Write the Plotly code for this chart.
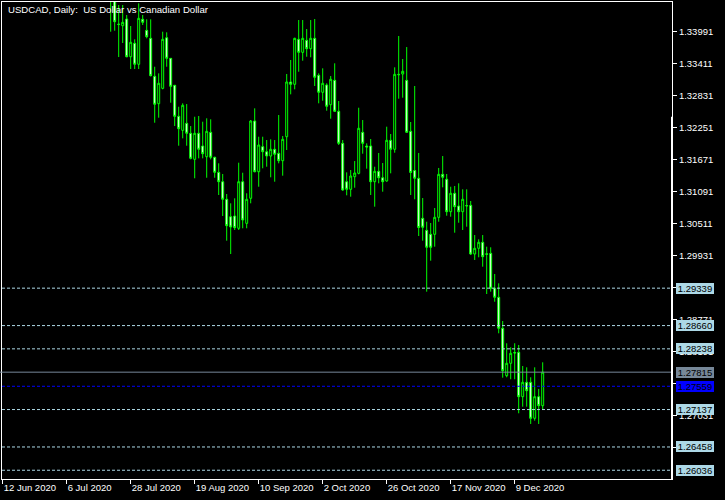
import plotly.graph_objects as go
import pandas as pd

# ---- data -------------------------------------------------------------
dates = pd.bdate_range("2020-06-12", periods=136).strftime("%Y-%m-%d").tolist()

opens = [
    1.3577, 1.3588, 1.3572, 1.3530, 1.3580, 1.3612, 1.3602, 1.3548, 1.3628, 1.3685,
    1.3665, 1.3640, 1.3580, 1.3605, 1.3575, 1.3560, 1.3580, 1.3565, 1.3560, 1.3520,
    1.3595, 1.3575, 1.3610, 1.3590, 1.3560, 1.3575, 1.3545, 1.3500, 1.3470, 1.34130,
    1.34100, 1.34221, 1.33537, 1.33781, 1.33400, 1.34216, 1.34016, 1.33871, 1.33182, 1.32685,
    1.32964, 1.33882, 1.33508, 1.33019, 1.32456, 1.32202, 1.32329, 1.32148, 1.31676, 1.32148,
    1.31918, 1.31723, 1.32166, 1.31713, 1.31440, 1.31270, 1.30951, 1.30635, 1.30648, 1.30425,
    1.31270, 1.30515, 1.30969, 1.32371, 1.31451, 1.31905, 1.31814, 1.31736, 1.31858, 1.31785,
    1.31651, 1.32086, 1.33079, 1.33037, 1.33853, 1.33617, 1.33835, 1.33683, 1.33871, 1.33200,
    1.32892, 1.33024, 1.32667, 1.33109, 1.32547, 1.31966, 1.31270, 1.31132, 1.31361, 1.31422,
    1.32166, 1.31918, 1.31918, 1.31270, 1.31459, 1.31342, 1.31283, 1.32021, 1.31858, 1.33218,
    1.33224, 1.33109, 1.32184, 1.31473, 1.31332, 1.30606, 1.30388, 1.30316, 1.30316, 1.30624,
    1.31404, 1.31314, 1.30726, 1.31060, 1.30829, 1.30726, 1.30838, 1.30842, 1.29958, 1.30062,
    1.30171, 1.29962, 1.29971, 1.29336, 1.29173, 1.28611, 1.27751, 1.27976, 1.28172, 1.28175,
    1.27370, 1.27631, 1.27631, 1.26978, 1.27370, 1.27207,
]
highs = [
    1.3650, 1.3660, 1.3590, 1.3595, 1.3627, 1.3646, 1.3620, 1.3640, 1.3715, 1.3716,
    1.3690, 1.3660, 1.3620, 1.3615, 1.3590, 1.3600, 1.3590, 1.3600, 1.3575, 1.3605,
    1.3620, 1.3620, 1.3645, 1.3605, 1.3595, 1.3590, 1.3565, 1.3512, 1.3485, 1.34475,
    1.34475, 1.34294, 1.34094, 1.33853, 1.34506, 1.34294, 1.34216, 1.34216, 1.33356, 1.33236,
    1.33991, 1.33980, 1.33510, 1.33025, 1.32630, 1.32692, 1.32679, 1.32280, 1.32449, 1.32462,
    1.32358, 1.32420, 1.32402, 1.31723, 1.31604, 1.31410, 1.31047, 1.30878, 1.30969, 1.31615,
    1.31433, 1.31060, 1.32389, 1.32601, 1.32086, 1.32086, 1.32026, 1.32039, 1.32026, 1.32480,
    1.32099, 1.33224, 1.33478, 1.33882, 1.34203, 1.34203, 1.34040, 1.34203, 1.34221, 1.33236,
    1.33327, 1.33055, 1.33187, 1.33418, 1.32734, 1.32026, 1.31440, 1.31482, 1.31645, 1.32612,
    1.32389, 1.31966, 1.32045, 1.31542, 1.31791, 1.31609, 1.32268, 1.32135, 1.33345, 1.33913,
    1.33496, 1.33713, 1.32353, 1.33006, 1.31791, 1.30974, 1.30544, 1.30521, 1.30793, 1.31519,
    1.31736, 1.31410, 1.31179, 1.31192, 1.31241, 1.31132, 1.31132, 1.30920, 1.30303, 1.30225,
    1.30303, 1.30091, 1.30080, 1.29596, 1.29427, 1.28743, 1.28339, 1.28266, 1.28339, 1.28308,
    1.27927, 1.27903, 1.27722, 1.27903, 1.27510, 1.27994,
]
lows = [
    1.3540, 1.3560, 1.3505, 1.3522, 1.3560, 1.3578, 1.3530, 1.3535, 1.3620, 1.3640,
    1.3615, 1.3570, 1.3535, 1.3550, 1.3525, 1.3550, 1.3535, 1.3550, 1.3505, 1.3515,
    1.3560, 1.3565, 1.3575, 1.3545, 1.3540, 1.3525, 1.3490, 1.33991, 1.34009, 1.33532,
    1.33786, 1.33527, 1.33314, 1.33314, 1.33314, 1.34113, 1.33871, 1.33180, 1.32340, 1.32431,
    1.32946, 1.33356, 1.32703, 1.32280, 1.31923, 1.32057, 1.31923, 1.31676, 1.31332, 1.31694,
    1.31694, 1.31342, 1.31676, 1.31342, 1.31029, 1.30648, 1.30200, 1.29958, 1.30394, 1.30394,
    1.30425, 1.30425, 1.30878, 1.31440, 1.31179, 1.31513, 1.31542, 1.31350, 1.31270, 1.31604,
    1.31379, 1.31845, 1.32855, 1.32946, 1.33265, 1.33465, 1.33537, 1.33527, 1.33006, 1.32692,
    1.32739, 1.32558, 1.32413, 1.32534, 1.31936, 1.31107, 1.31023, 1.30998, 1.31161, 1.31404,
    1.31778, 1.31506, 1.31029, 1.30817, 1.31241, 1.31089, 1.31270, 1.31422, 1.31796, 1.32776,
    1.32794, 1.32159, 1.31029, 1.30951, 1.30285, 1.30200, 1.29275, 1.29837, 1.30091, 1.30544,
    1.31168, 1.30653, 1.30635, 1.30345, 1.30526, 1.30394, 1.30454, 1.29940, 1.29850, 1.29899,
    1.29728, 1.29233, 1.29275, 1.29093, 1.28520, 1.27715, 1.27722, 1.27686, 1.27686, 1.27069,
    1.27189, 1.27189, 1.26875, 1.26935, 1.26875, 1.27141,
]
closes = [
    1.3588, 1.3572, 1.3530, 1.3580, 1.3612, 1.3602, 1.3548, 1.3628, 1.3685, 1.3665,
    1.3640, 1.3580, 1.3605, 1.3575, 1.3560, 1.3580, 1.3565, 1.3560, 1.3520, 1.3595,
    1.3575, 1.3610, 1.3590, 1.3560, 1.3575, 1.3545, 1.3500, 1.3470, 1.34172, 1.34122,
    1.34161, 1.33537, 1.33799, 1.33400, 1.34234, 1.34161, 1.33900, 1.33193, 1.32674, 1.33055,
    1.33853, 1.33508, 1.33000, 1.32456, 1.32231, 1.32656, 1.32148, 1.31694, 1.32148, 1.31858,
    1.31778, 1.32184, 1.31713, 1.31440, 1.31270, 1.30951, 1.30472, 1.30448, 1.30436, 1.31270,
    1.30575, 1.30951, 1.32371, 1.31451, 1.31936, 1.31814, 1.31736, 1.31858, 1.31767, 1.31651,
    1.32039, 1.33079, 1.33037, 1.33871, 1.33617, 1.33871, 1.33683, 1.33871, 1.33164, 1.32892,
    1.33055, 1.32638, 1.33128, 1.32547, 1.31966, 1.31119, 1.31132, 1.31373, 1.31428, 1.32239,
    1.31966, 1.31899, 1.31270, 1.31459, 1.31342, 1.31270, 1.32021, 1.31858, 1.33218, 1.33211,
    1.33273, 1.32166, 1.31437, 1.31332, 1.30439, 1.30443, 1.30080, 1.30080, 1.30624, 1.31404,
    1.31350, 1.30726, 1.31060, 1.30817, 1.30726, 1.30951, 1.30831, 1.29958, 1.30062, 1.30171,
    1.29910, 1.29953, 1.29336, 1.29173, 1.28611, 1.27842, 1.27976, 1.28157, 1.28163, 1.27370,
    1.27631, 1.27479, 1.26978, 1.27370, 1.27207, 1.27815,
]

x_tick_index = [0, 16, 32, 48, 64, 80, 96, 112, 128]
x_tick_labels = ["12 Jun 2020", "6 Jul 2020", "28 Jul 2020", "19 Aug 2020", "10 Sep 2020",
                 "2 Oct 2020", "26 Oct 2020", "17 Nov 2020", "9 Dec 2020"]
y_tick_values = [1.33991, 1.33411, 1.32831, 1.32251, 1.31671, 1.31091, 1.30511, 1.29931,
                 1.29351, 1.28771, 1.28191, 1.27611, 1.27031, 1.26451]
level_prices = [1.29339, 1.28660, 1.28238, 1.27137, 1.26458, 1.26036]
last_price = 1.27815
blue_price = 1.27559
title_text = "USDCAD, Daily:  US Dollar vs Canadian Dollar"

# ---- figure -----------------------------------------------------------
FONT = "Liberation Sans, Arial, sans-serif"
GREEN = "#00ff00"
LIGHTBLUE = "#add8e6"

fig = go.Figure()
fig.add_trace(go.Candlestick(
    x=dates, open=opens, high=highs, low=lows, close=closes,
    increasing=dict(line=dict(color=GREEN, width=1), fillcolor="#000000"),
    decreasing=dict(line=dict(color=GREEN, width=1), fillcolor="#ffffff"),
    whiskerwidth=0, hoverinfo="skip", showlegend=False,
))

shapes = []
for p in level_prices:
    shapes.append(dict(type="line", xref="paper", x0=0, x1=1, yref="y", y0=p, y1=p,
                       line=dict(color=LIGHTBLUE, width=1, dash="3px,2px"), layer="above"))
shapes.append(dict(type="line", xref="paper", x0=-0.003, x1=1, yref="y", y0=last_price, y1=last_price,
                   line=dict(color="#778899", width=1), layer="above"))
shapes.append(dict(type="line", xref="paper", x0=0, x1=1, yref="y", y0=blue_price, y1=blue_price,
                   line=dict(color="#0000ff", width=1, dash="3px,2px"), layer="above"))
shapes.append(dict(type="line", xref="paper", x0=1, x1=1, yref="y", y0=1.32449, y1=1.25877,
                   line=dict(color="#ffffff", width=2), layer="above"))

annotations = []
labels = [(p, LIGHTBLUE) for p in level_prices] + [(last_price, "#778899"), (blue_price, "#0000ff")]
for p, bg in labels:
    annotations.append(dict(
        x=1, xref="paper", xanchor="left", xshift=3.5,
        y=p, yref="y", yanchor="middle",
        text=f"{p:.5f}", showarrow=False, bgcolor=bg,
        font=dict(family=FONT, size=9.5, color="#000000"),
        width=38, height=11, borderpad=0, borderwidth=0,
    ))
annotations.append(dict(
    x=0, xref="paper", xanchor="left", xshift=4,
    y=1 - 8 / 477, yref="paper", yanchor="middle",
    text=title_text, showarrow=False,
    font=dict(family=FONT, size=9.6, color="#ffffff"),
))

fig.update_layout(
    width=725, height=500,
    margin=dict(l=2, r=53, t=2, b=21),
    paper_bgcolor="#000000", plot_bgcolor="#000000",
    shapes=shapes, annotations=annotations,
    showlegend=False,
    font=dict(family=FONT, size=9.5, color="#ffffff"),
    xaxis=dict(
        type="category", range=[-0.175, 167.325],
        rangeslider=dict(visible=False),
        tickmode="array",
        tickvals=[dates[i] for i in x_tick_index], ticktext=x_tick_labels,
        ticks="outside", ticklen=4, tickwidth=1, tickcolor="#ffffff",
        ticklabelposition="outside right", tickangle=0,
        tickfont=dict(family=FONT, size=9.5, color="#ffffff"),
        showgrid=False, zeroline=False,
        showline=True, linecolor="#ffffff", linewidth=1, mirror=True,
        fixedrange=True,
    ),
    yaxis=dict(
        side="right", range=[1.25877, 1.34530],
        tickmode="array", tickvals=y_tick_values,
        ticktext=[f"{v:.5f}" for v in y_tick_values],
        ticks="outside", ticklen=4, tickwidth=1, tickcolor="#ffffff",
        tickfont=dict(family=FONT, size=9.5, color="#ffffff"),
        showgrid=False, zeroline=False,
        showline=True, linecolor="#ffffff", linewidth=1, mirror=True,
        fixedrange=True,
    ),
)

fig.write_html(
    "out.html",
    config={"displayModeBar": False, "staticPlot": True},
    post_script="document.body.style.margin='0';document.body.style.background='#000';",
)
